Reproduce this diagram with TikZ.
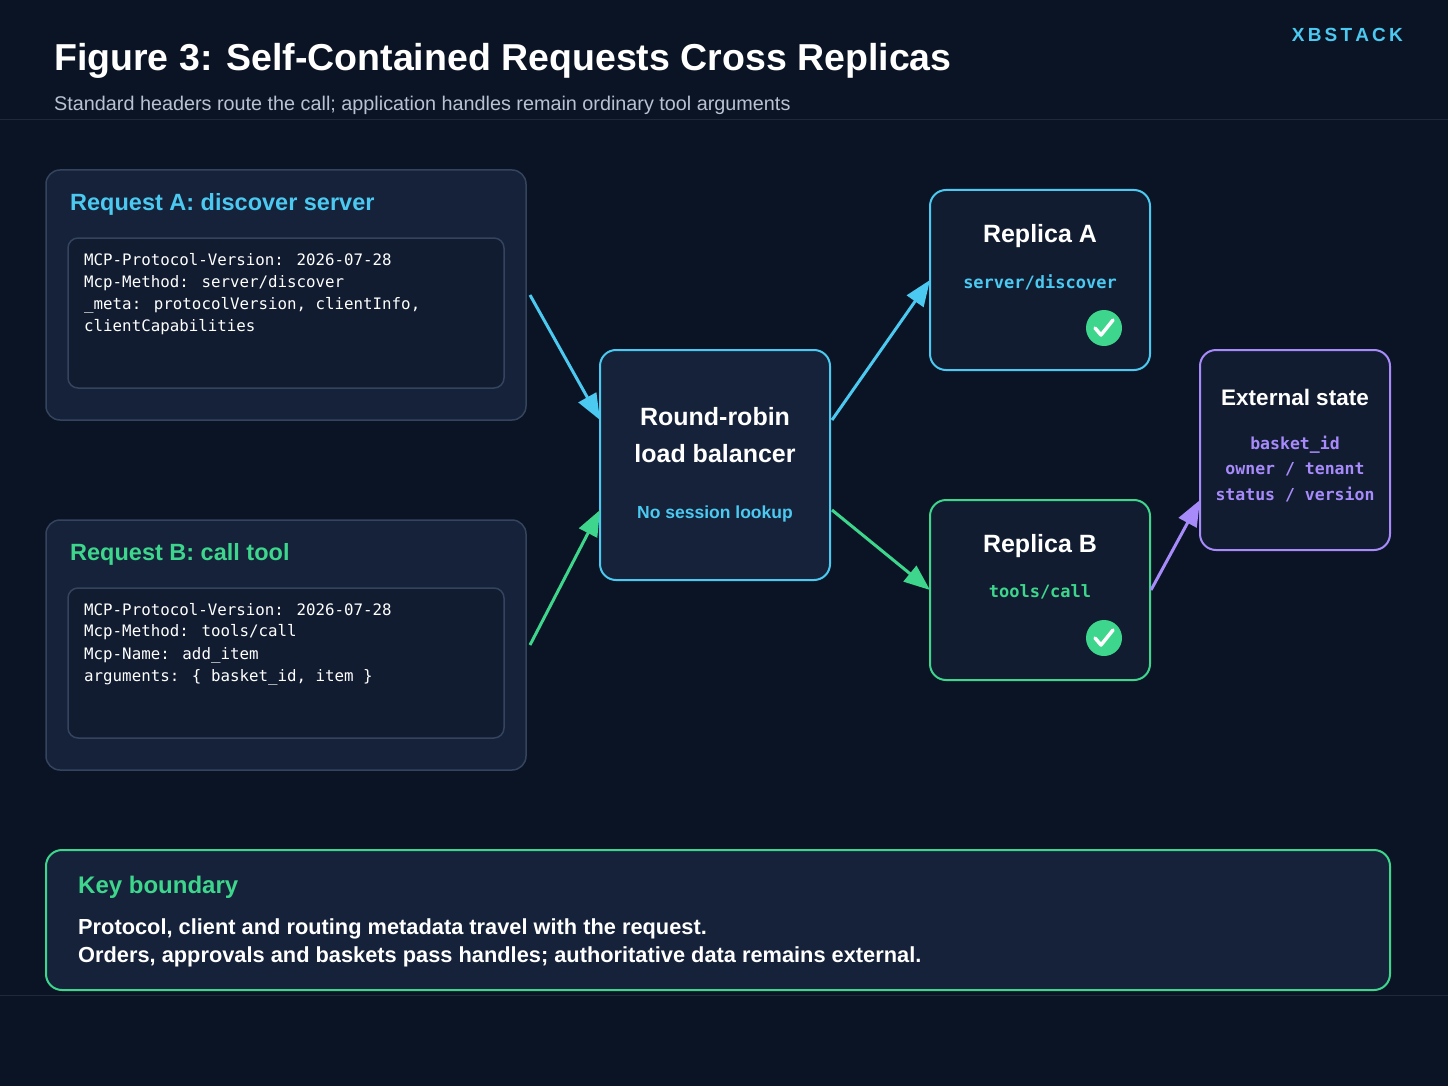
\documentclass[tikz,border=0pt]{standalone}
\usepackage{fontspec}
\setmainfont{Liberation Sans}
\newfontfamily\mono{DejaVu Sans Mono}
\usetikzlibrary{arrows.meta}
\definecolor{bg}{HTML}{0B1424}
\definecolor{card}{HTML}{15223A}
\definecolor{cardd}{HTML}{111C31}
\definecolor{edge}{HTML}{34435E}
\definecolor{cy}{HTML}{4CC9F0}
\definecolor{gr}{HTML}{3DD68C}
\definecolor{pu}{HTML}{A78BFA}
\definecolor{sub}{HTML}{B8C2D2}
\begin{document}
\begin{tikzpicture}[x=1pt,y=-1pt,
  box/.style={draw=edge,line width=1.5pt,fill=card,rounded corners=14pt},
  inner/.style={draw=edge,line width=1.5pt,fill=cardd,rounded corners=10pt},
  ctr/.style={draw,line width=2pt,rounded corners=16pt},
  code/.style={anchor=west,inner sep=0pt,text=white,font=\mono\fontsize{15.8}{18}\selectfont},
  arr/.style={line width=3pt,-{Triangle[length=26pt,width=20pt]}},
  chk/.style={circle,fill=gr,minimum size=36pt,inner sep=0pt}]
\fill[bg] (0,0) rectangle (1448,1086);
\useasboundingbox (0,0) rectangle (1448,1086);
\draw[edge!45!bg,line width=1pt] (0,120) -- (1448,120) (0,995) -- (1448,995);
\node[anchor=west,inner sep=0pt,text=white,font=\bfseries\fontsize{37.5}{40}\selectfont] (title) at (54,61) {Figure 3: Self-Contained Requests Cross Replicas};
\node[anchor=west,inner sep=0pt,text=sub,font=\fontsize{19.8}{22}\selectfont] (subt) at (54,105) {Standard headers route the call; application handles remain ordinary tool arguments};
\node[anchor=east,inner sep=0pt,text=cy,font=\bfseries\fontsize{19}{22}\selectfont] (brand) at (1403,35) {X\,B\,S\,T\,A\,C\,K};
% Request A
\draw[box] (46,170) rectangle (526,420);
\node[anchor=west,inner sep=0pt,text=cy,font=\bfseries\fontsize{23.5}{26}\selectfont] (ta) at (70,204) {Request A: discover server};
\draw[inner] (68,238) rectangle (504,388);
\node[code] (a1) at (84,260) {MCP-Protocol-Version: 2026-07-28};
\node[code] (a2) at (84,283) {Mcp-Method: server/discover};
\node[code] (a3) at (84,305) {\_meta: protocolVersion, clientInfo,};
\node[code] (a4) at (84,327) {clientCapabilities};
% Request B
\draw[box] (46,520) rectangle (526,770);
\node[anchor=west,inner sep=0pt,text=gr,font=\bfseries\fontsize{23.5}{26}\selectfont] (tb) at (70,554) {Request B: call tool};
\draw[inner] (68,588) rectangle (504,738);
\node[code] (b1) at (84,610) {MCP-Protocol-Version: 2026-07-28};
\node[code] (b2) at (84,632) {Mcp-Method: tools/call};
\node[code] (b3) at (84,655) {Mcp-Name: add\_item};
\node[code] (b4) at (84,677) {arguments: \{ basket\_id, item \}};
% LB
\draw[ctr,draw=cy,fill=card] (600,350) rectangle (830,580);
\node[text=white,font=\bfseries\fontsize{25}{37}\selectfont,align=center] (lb) at (715,435) {Round-robin\\load balancer};
\node[text=cy,font=\bfseries\fontsize{17.5}{20}\selectfont] (lbs) at (715,514) {No session lookup};
% Replica A
\draw[ctr,draw=cy,fill=cardd] (930,190) rectangle (1150,370);
\node[text=white,font=\bfseries\fontsize{25}{28}\selectfont] (ra) at (1040,236) {Replica A};
\node[text=cy,font=\mono\bfseries\fontsize{17}{20}\selectfont] (ras) at (1040,282) {server/discover};
\node[chk] (ca) at (1104,328) {};
\draw[white,line width=3.5pt,line cap=round,line join=round] (1095,328) -- (1101,335) -- (1113,320);
% Replica B
\draw[ctr,draw=gr,fill=cardd] (930,500) rectangle (1150,680);
\node[text=white,font=\bfseries\fontsize{25}{28}\selectfont] (rb) at (1040,546) {Replica B};
\node[text=gr,font=\mono\bfseries\fontsize{17}{20}\selectfont] (rbs) at (1040,592) {tools/call};
\node[chk] (cb) at (1104,638) {};
\draw[white,line width=3.5pt,line cap=round,line join=round] (1095,638) -- (1101,645) -- (1113,630);
% External
\draw[ctr,draw=pu,fill=cardd] (1200,350) rectangle (1390,550);
\node[text=white,font=\bfseries\fontsize{22.5}{25}\selectfont] (ex) at (1295,397) {External state};
\node[text=pu,font=\mono\bfseries\fontsize{16.5}{25.5}\selectfont,align=center] (exs) at (1295,469) {basket\_id\\owner / tenant\\status / version};
% Key boundary
\draw[ctr,draw=gr,fill=card] (46,850) rectangle (1390,990);
\node[anchor=west,inner sep=0pt,text=gr,font=\bfseries\fontsize{24}{27}\selectfont] (kb) at (78,887) {Key boundary};
\node[anchor=west,inner sep=0pt,text=white,font=\bfseries\fontsize{21.8}{28}\selectfont,align=left] (kbt) at (78,943) {Protocol, client and routing metadata travel with the request.\\Orders, approvals and baskets pass handles; authoritative data remains external.};
% arrows
\coordinate (pa) at (530,295); \coordinate (lbA) at (600,420);
\coordinate (pb) at (530,645); \coordinate (lbB) at (600,510);
\coordinate (lbo1) at (832,420); \coordinate (raIn) at (930,280);
\coordinate (lbo2) at (832,510); \coordinate (rbIn) at (930,590);
\coordinate (rbo) at (1151,590); \coordinate (exIn) at (1200,500);
\draw[arr,cy] (pa) -- (lbA);
\draw[arr,gr] (pb) -- (lbB);
\draw[arr,cy] (lbo1) -- (raIn);
\draw[arr,gr] (lbo2) -- (rbIn);
\draw[arr,pu] (rbo) -- (exIn);
\end{tikzpicture}
\end{document}
